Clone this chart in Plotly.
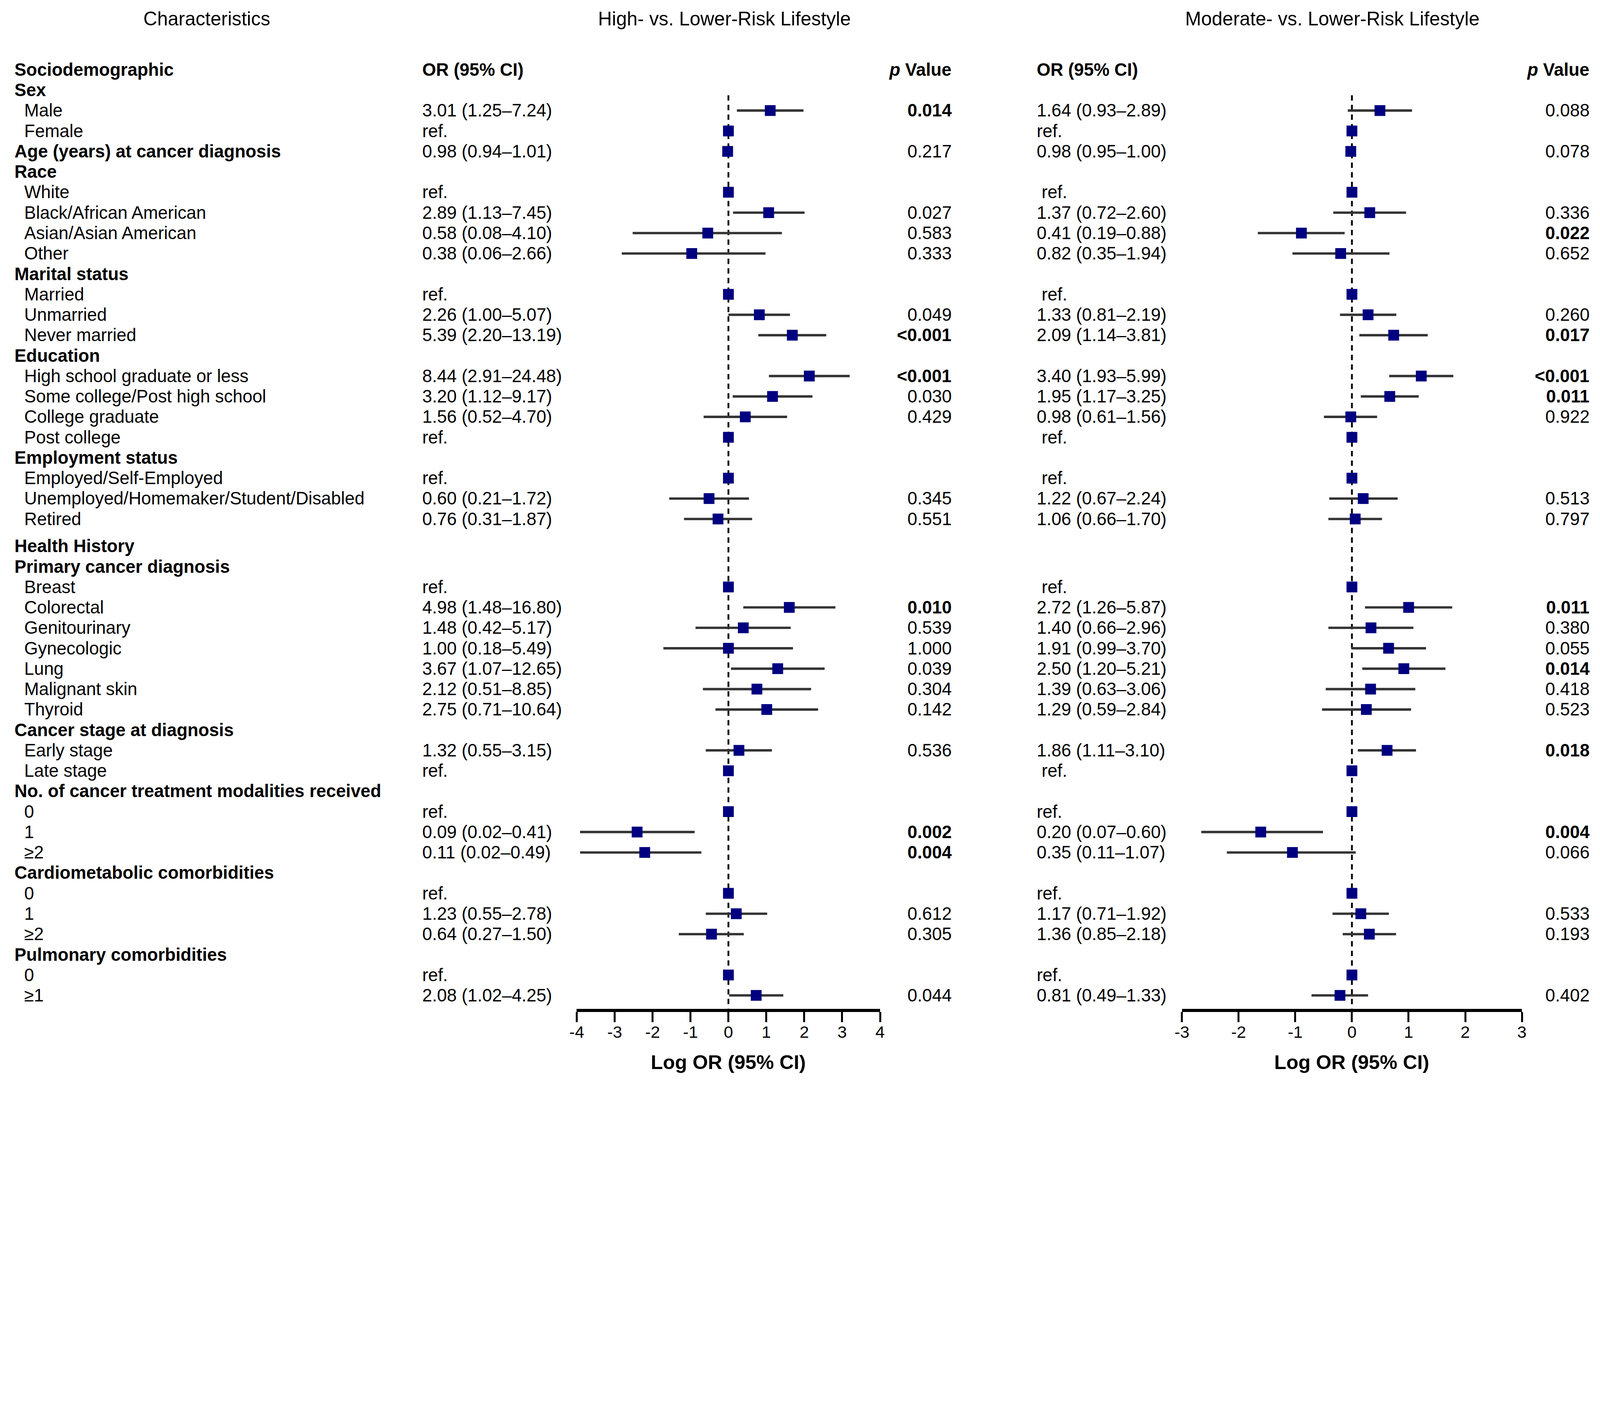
import math
import plotly.graph_objects as go

# ---------------- data ----------------
characteristics = [
    "Sociodemographic", "Sex", "Male", "Female", "Age (years) at cancer diagnosis",
    "Race", "White", "Black/African American", "Asian/Asian American", "Other",
    "Marital status", "Married", "Unmarried", "Never married",
    "Education", "High school graduate or less", "Some college/Post high school",
    "College graduate", "Post college",
    "Employment status", "Employed/Self-Employed", "Unemployed/Homemaker/Student/Disabled", "Retired",
    "Health History", "Primary cancer diagnosis", "Breast", "Colorectal", "Genitourinary",
    "Gynecologic", "Lung", "Malignant skin", "Thyroid",
    "Cancer stage at diagnosis", "Early stage", "Late stage",
    "No. of cancer treatment modalities received", "0", "1", "≥2",
    "Cardiometabolic comorbidities", "0", "1", "≥2",
    "Pulmonary comorbidities", "0", "≥1",
]
is_heading = [
    True, True, False, False, True,
    True, False, False, False, False,
    True, False, False, False,
    True, False, False, False, False,
    True, False, False, False,
    True, True, False, False, False, False, False, False, False,
    True, False, False,
    True, False, False, False,
    True, False, False, False,
    True, False, False,
]

# High- vs. Lower-Risk Lifestyle
high_or = [None, None, 3.01, 1.0, 0.98, None, 1.0, 2.89, 0.58, 0.38, None, 1.0, 2.26, 5.39,
           None, 8.44, 3.20, 1.56, 1.0, None, 1.0, 0.60, 0.76, None, None, 1.0, 4.98, 1.48,
           1.00, 3.67, 2.12, 2.75, None, 1.32, 1.0, None, 1.0, 0.09, 0.11, None, 1.0, 1.23,
           0.64, None, 1.0, 2.08]
high_lo = [None, None, 1.25, None, 0.94, None, None, 1.13, 0.08, 0.06, None, None, 1.00, 2.20,
           None, 2.91, 1.12, 0.52, None, None, None, 0.21, 0.31, None, None, None, 1.48, 0.42,
           0.18, 1.07, 0.51, 0.71, None, 0.55, None, None, None, 0.02, 0.02, None, None, 0.55,
           0.27, None, None, 1.02]
high_hi = [None, None, 7.24, None, 1.01, None, None, 7.45, 4.10, 2.66, None, None, 5.07, 13.19,
           None, 24.48, 9.17, 4.70, None, None, None, 1.72, 1.87, None, None, None, 16.80, 5.17,
           5.49, 12.65, 8.85, 10.64, None, 3.15, None, None, None, 0.41, 0.49, None, None, 2.78,
           1.50, None, None, 4.25]
high_or_text = ["", "", "3.01 (1.25–7.24)", "ref.", "0.98 (0.94–1.01)", "", "ref.",
                "2.89 (1.13–7.45)", "0.58 (0.08–4.10)", "0.38 (0.06–2.66)", "", "ref.",
                "2.26 (1.00–5.07)", "5.39 (2.20–13.19)", "", "8.44 (2.91–24.48)",
                "3.20 (1.12–9.17)", "1.56 (0.52–4.70)", "ref.", "", "ref.", "0.60 (0.21–1.72)",
                "0.76 (0.31–1.87)", "", "", "ref.", "4.98 (1.48–16.80)", "1.48 (0.42–5.17)",
                "1.00 (0.18–5.49)", "3.67 (1.07–12.65)", "2.12 (0.51–8.85)", "2.75 (0.71–10.64)",
                "", "1.32 (0.55–3.15)", "ref.", "", "ref.", "0.09 (0.02–0.41)", "0.11 (0.02–0.49)",
                "", "ref.", "1.23 (0.55–2.78)", "0.64 (0.27–1.50)", "", "ref.", "2.08 (1.02–4.25)"]
high_p = ["", "", "0.014", "", "0.217", "", "", "0.027", "0.583", "0.333", "", "", "0.049",
          "<0.001", "", "<0.001", "0.030", "0.429", "", "", "", "0.345", "0.551", "", "", "",
          "0.010", "0.539", "1.000", "0.039", "0.304", "0.142", "", "0.536", "", "", "", "0.002",
          "0.004", "", "", "0.612", "0.305", "", "", "0.044"]
high_p_bold = [False, False, True, False, False, False, False, False, False, False, False, False,
               False, True, False, True, False, False, False, False, False, False, False, False,
               False, False, True, False, False, False, False, False, False, False, False, False,
               False, True, True, False, False, False, False, False, False, False]

# Moderate- vs. Lower-Risk Lifestyle
mod_or = [None, None, 1.64, 1.0, 0.98, None, 1.0, 1.37, 0.41, 0.82, None, 1.0, 1.33, 2.09,
          None, 3.40, 1.95, 0.98, 1.0, None, 1.0, 1.22, 1.06, None, None, 1.0, 2.72, 1.40,
          1.91, 2.50, 1.39, 1.29, None, 1.86, 1.0, None, 1.0, 0.20, 0.35, None, 1.0, 1.17,
          1.36, None, 1.0, 0.81]
mod_lo = [None, None, 0.93, None, 0.95, None, None, 0.72, 0.19, 0.35, None, None, 0.81, 1.14,
          None, 1.93, 1.17, 0.61, None, None, None, 0.67, 0.66, None, None, None, 1.26, 0.66,
          0.99, 1.20, 0.63, 0.59, None, 1.11, None, None, None, 0.07, 0.11, None, None, 0.71,
          0.85, None, None, 0.49]
mod_hi = [None, None, 2.89, None, 1.00, None, None, 2.60, 0.88, 1.94, None, None, 2.19, 3.81,
          None, 5.99, 3.25, 1.56, None, None, None, 2.24, 1.70, None, None, None, 5.87, 2.96,
          3.70, 5.21, 3.06, 2.84, None, 3.10, None, None, None, 0.60, 1.07, None, None, 1.92,
          2.18, None, None, 1.33]
mod_or_text = ["", "", "1.64 (0.93–2.89)", "ref.", "0.98 (0.95–1.00)", "", "\u00a0ref.",
               "1.37 (0.72–2.60)", "0.41 (0.19–0.88)", "0.82 (0.35–1.94)", "", "\u00a0ref.",
               "1.33 (0.81–2.19)", "2.09 (1.14–3.81)", "", "3.40 (1.93–5.99)",
               "1.95 (1.17–3.25)", "0.98 (0.61–1.56)", "\u00a0ref.", "", "\u00a0ref.",
               "1.22 (0.67–2.24)", "1.06 (0.66–1.70)", "", "", "\u00a0ref.",
               "2.72 (1.26–5.87)", "1.40 (0.66–2.96)", "1.91 (0.99–3.70)", "2.50 (1.20–5.21)",
               "1.39 (0.63–3.06)", "1.29 (0.59–2.84)", "", "1.86 (1.11–3.10)", "\u00a0ref.", "",
               "ref.", "0.20 (0.07–0.60)", "0.35 (0.11–1.07)", "", "ref.", "1.17 (0.71–1.92)",
               "1.36 (0.85–2.18)", "", "ref.", "0.81 (0.49–1.33)"]
mod_p = ["", "", "0.088", "", "0.078", "", "", "0.336", "0.022", "0.652", "", "", "0.260",
         "0.017", "", "<0.001", "0.011", "0.922", "", "", "", "0.513", "0.797", "", "", "",
         "0.011", "0.380", "0.055", "0.014", "0.418", "0.523", "", "0.018", "", "", "", "0.004",
         "0.066", "", "", "0.533", "0.193", "", "", "0.402"]
mod_p_bold = [False, False, False, False, False, False, False, False, True, False, False, False,
              False, True, False, True, True, False, False, False, False, False, False, False,
              False, False, True, False, False, True, False, False, False, True, False, False,
              False, True, False, False, False, False, False, False, False, False]

tick_vals_high = [-4, -3, -2, -1, 0, 1, 2, 3, 4]
tick_text_high = ["-4", "-3", "-2", "-1", "0", "1", "2", "3", "4"]
tick_vals_mod = [-3, -2, -1, 0, 1, 2, 3]
tick_text_mod = ["-3", "-2", "-1", "0", "1", "2", "3"]

# ---------------- layout helpers ----------------
# positions are measured in reference-picture pixels and mapped to page pixels
FIG_W, FIG_H = 4090, 2760
XS, XOFF = 0.76789, 26.85
YS, YOFF = 0.75472, 6.8
K = XS                       # size scale for fonts / marks

FONT = "Liberation Sans, Arial, sans-serif"
BODY = 59 * K
HEAD = 64 * K
NAVY = "#000080"
CI_COL = "#333333"


def px(x):
    return (XS * x - XOFF) / FIG_W


def py(y):
    return 1 - (YS * y - YOFF) / FIG_H


ROW0_PX = 234.8      # reference y pixel of row 0
ROW_PX = 69.25       # reference pixels per row
AXIS_PX = 3419       # reference y pixel of the x axis line
TOP_PX = YOFF / YS   # reference y pixel at the figure top


def yrow(ypix):
    return (ypix - ROW0_PX) / ROW_PX


y_top = yrow(TOP_PX)
y_axis = yrow(AXIS_PX)

GAP_AFTER = 23
row_y = [i + (0.33 if i >= GAP_AFTER else 0.0) for i in range(len(characteristics))]


def logs(vals):
    return [math.log(v) if v is not None else None for v in vals]


def err_plus(o, h):
    return [(math.log(b) - math.log(a)) if (a is not None and b is not None) else 0
            for a, b in zip(o, h)]


def err_minus(o, l):
    return [(math.log(a) - math.log(b)) if (a is not None and b is not None) else 0
            for a, b in zip(o, l)]


fig = go.Figure()

for xa, o, lo, hi in [("x", high_or, high_lo, high_hi), ("x2", mod_or, mod_lo, mod_hi)]:
    fig.add_trace(go.Scatter(
        x=logs(o), y=row_y, xaxis=xa, yaxis="y", mode="markers",
        marker=dict(symbol="square", size=36 * K, color=NAVY, line=dict(width=0)),
        error_x=dict(type="data", symmetric=False, array=err_plus(o, hi),
                     arrayminus=err_minus(o, lo), thickness=8 * K, width=0, color=CI_COL),
        showlegend=False, hoverinfo="skip",
    ))

axis_common = dict(
    showgrid=False, zeroline=False, showline=True, linecolor="black", linewidth=11 * K,
    ticks="outside", ticklen=34 * K, tickwidth=6 * K, tickcolor="black",
    tickfont=dict(family=FONT, size=56 * K, color="black"), anchor="y", fixedrange=True,
    ticklabelstandoff=-12,
)
fig.update_layout(
    xaxis=dict(domain=[px(1937), px(2956)], range=[-4, 4], tickvals=tick_vals_high,
               ticktext=tick_text_high, **axis_common),
    xaxis2=dict(domain=[px(3970), px(5112)], range=[-3, 3], tickvals=tick_vals_mod,
                ticktext=tick_text_mod, **axis_common),
    yaxis=dict(domain=[py(AXIS_PX), 1], range=[y_axis, y_top], visible=False,
               fixedrange=True),
)

# dashed null lines
dash_pat = f"{18 * K:.1f}px,{14 * K:.1f}px"
for xr in ["x", "x2"]:
    fig.add_shape(type="line", xref=xr, yref="y", x0=0, x1=0, y0=1.25, y1=y_axis,
                  line=dict(color="black", width=6 * K, dash=dash_pat), layer="below")

ann = []


def text(x, y, s, anchor="left", size=BODY, yref="y"):
    ann.append(dict(x=x, y=y, xref="paper", yref=yref, text=s, showarrow=False,
                    xanchor=anchor, yanchor="middle",
                    font=dict(family=FONT, size=size, color="black")))


# top titles
y_title = yrow(62)
text(px(694), y_title, "Characteristics", "center", HEAD)
text(px(2433), y_title, "High- vs. Lower-Risk Lifestyle", "center", HEAD)
text(px(4475), y_title, "Moderate- vs. Lower-Risk Lifestyle", "center", HEAD)

# column headers (row 0)
text(px(1416), row_y[0], "<b>OR (95% CI)</b>")
text(px(3199), row_y[0], "<b><i>p</i> Value</b>", "right")
text(px(3480), row_y[0], "<b>OR (95% CI)</b>")
text(px(5342), row_y[0], "<b><i>p</i> Value</b>", "right")

for i, lab in enumerate(characteristics):
    y = row_y[i]
    if is_heading[i]:
        text(px(45), y, f"<b>{lab}</b>")
    else:
        text(px(78), y, lab)
    if high_or_text[i]:
        text(px(1416), y, high_or_text[i])
    if high_p[i]:
        s = high_p[i].replace("<", "&lt;")
        text(px(3199), y, f"<b>{s}</b>" if high_p_bold[i] else s, "right")
    if mod_or_text[i]:
        text(px(3480), y, mod_or_text[i])
    if mod_p[i]:
        s = mod_p[i].replace("<", "&lt;")
        text(px(5342), y, f"<b>{s}</b>" if mod_p_bold[i] else s, "right")

# axis titles
text(px(2446), py(3600), "<b>Log OR (95% CI)</b>", "center", 66 * K, "paper")
text(px(4541), py(3600), "<b>Log OR (95% CI)</b>", "center", 66 * K, "paper")

fig.update_layout(
    annotations=ann,
    width=FIG_W, height=FIG_H,
    margin=dict(l=0, r=0, t=0, b=0, pad=0),
    paper_bgcolor="white", plot_bgcolor="white",
    font=dict(family=FONT, color="black"),
    showlegend=False,
)

fig.write_html("out.html")
